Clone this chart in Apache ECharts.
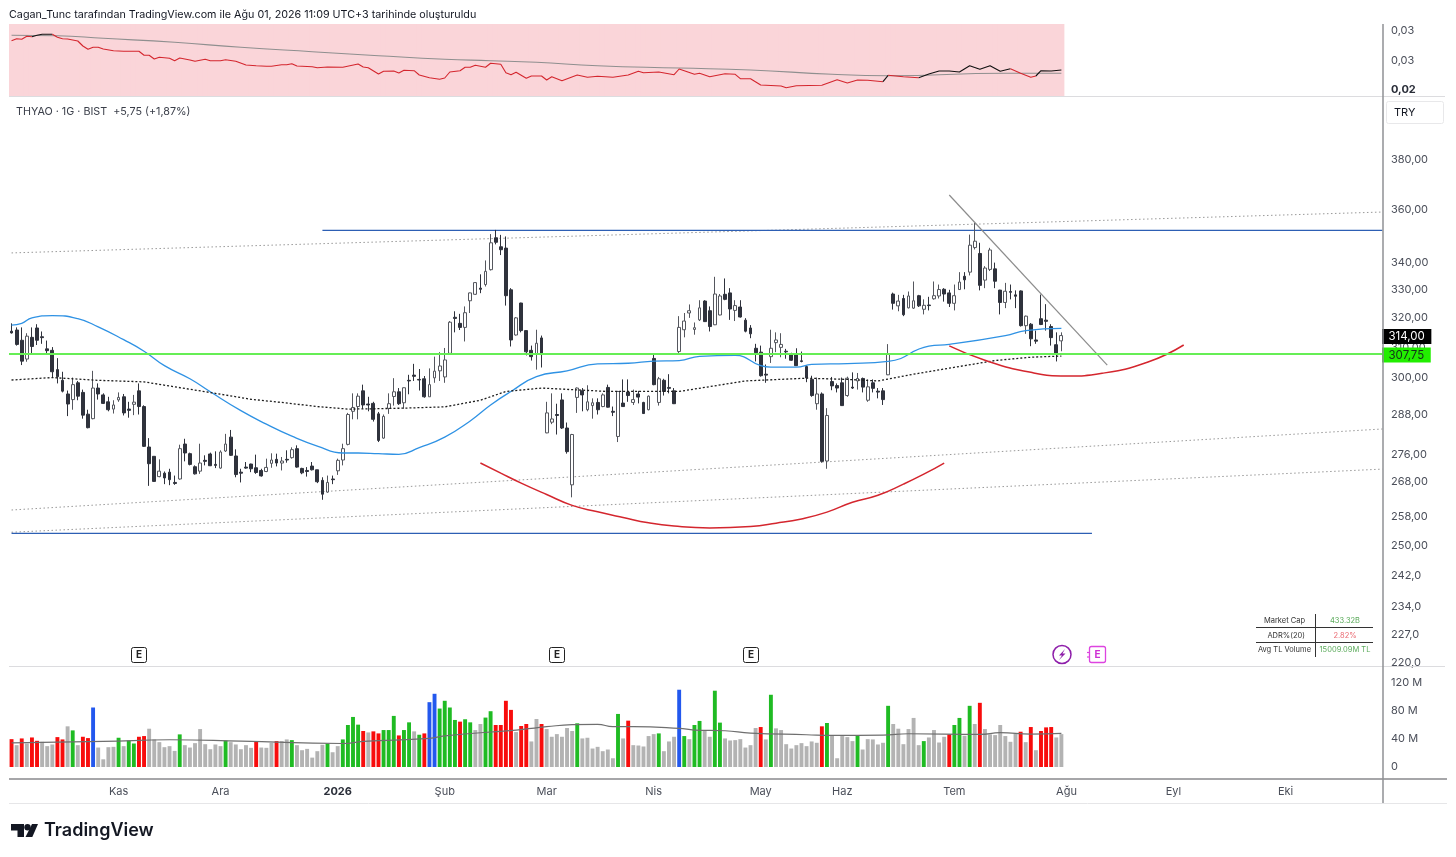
<!DOCTYPE html>
<html><head><meta charset="utf-8">
<style>html,body{margin:0;padding:0;background:#fff}#c{width:1456px;height:857px}</style>
<script src="https://cdn.jsdelivr.net/npm/echarts@6/dist/echarts.min.js"></script>
</head><body><div id="c"></div>
<script>
// ---------- data: every candle is [open, close, low, high] ----------
const candles = [
[315.5,314.9,314.7,318.2],[315.9,311.0,310.6,316.8],[312.4,305.4,304.1,316.8],[306.1,313.8,305.2,314.8],[313.4,310.3,307.5,316.8],
[316.6,312.4,310.8,317.9],[313.6,313.3,311.2,315.4],[309.5,308.9,308.0,312.3],[309.0,301.9,300.0,310.1],[302.6,300.3,298.1,306.4],
[299.1,295.6,295.2,301.9],[294.7,291.5,287.7,295.8],[292.9,297.7,289.7,300.0],[298.3,294.0,292.7,298.9],[295.2,288.0,286.9,296.1],
[288.3,284.1,283.9,289.7],[286.9,296.6,286.7,302.2],[296.6,294.7,292.9,298.1],[294.4,291.7,291.5,294.9],[292.2,289.7,289.2,293.8],
[289.9,291.2,288.5,292.7],[292.8,293.6,292.2,295.2],[293.8,288.7,287.9,294.7],[289.9,289.5,287.2,292.2],[291.4,292.1,288.0,294.4],
[295.7,290.7,288.2,298.1],[290.7,278.4,278.2,291.1],[278.2,273.2,266.7,280.9],[275.4,268.0,267.9,275.4],[269.4,271.0,269.2,274.5],
[270.4,269.0,267.2,270.9],[270.7,268.5,266.9,271.7],[267.7,267.4,267.0,269.7],[268.7,277.7,268.5,278.9],[279.1,276.4,273.9,280.7],
[276.2,273.0,272.7,276.5],[272.3,270.2,270.0,272.7],[271.0,273.4,270.2,279.2],[274.2,273.9,272.7,275.7],[276.1,272.6,272.5,276.5],
[273.0,272.7,271.9,276.9],[271.9,276.7,271.7,277.2],[277.0,279.1,276.7,282.2],[281.2,275.7,275.5,283.4],[275.5,270.0,269.2,277.5],
[270.7,270.4,267.7,271.7],[272.2,271.9,271.7,273.7],[273.1,271.7,270.7,273.2],[272.0,270.6,270.2,275.9],[271.2,269.6,269.4,271.7],
[270.9,272.1,270.7,274.7],[273.3,274.3,272.0,276.3],[274.5,273.4,272.4,276.2],[273.4,274.0,271.2,275.2],[274.5,274.3,273.5,277.2],
[275.0,277.4,274.7,278.1],[277.7,272.2,272.0,278.7],[271.8,270.5,270.1,272.0],[271.2,270.9,269.4,272.2],[272.5,271.4,271.2,273.7],
[271.4,267.9,267.5,271.4],[268.3,264.3,262.7,269.2],[264.9,267.7,264.7,269.7],[268.7,268.5,267.2,269.7],[271.1,274.2,269.9,274.7],
[274.3,277.7,272.7,279.2],[279.0,288.2,278.7,288.7],[289.2,290.4,286.7,294.9],[290.7,294.0,286.7,294.9],[295.7,291.2,290.0,297.7],
[291.5,291.2,289.2,293.8],[291.7,286.7,286.0,292.2],[288.4,280.2,279.7,289.0],[280.9,287.6,280.7,288.2],[290.1,291.6,288.4,294.9],
[293.9,295.4,291.0,299.8],[295.4,291.6,291.2,296.6],[291.9,296.7,290.0,296.8],[299.1,298.9,294.6,300.9],[300.8,300.4,298.9,304.5],
[299.4,299.2,295.8,302.8],[299.6,293.8,293.5,300.5],[293.8,297.7,293.8,303.0],[299.9,302.1,298.3,306.9],[302.2,303.8,298.9,308.4],
[300.2,305.8,298.3,309.8],[308.0,318.6,307.8,319.0],[320.3,319.9,315.1,322.4],[318.2,316.8,315.9,321.5],[316.8,321.9,312.0,324.1],
[326.1,328.9,321.8,329.0],[328.4,332.6,328.2,332.8],[330.6,330.2,328.8,335.6],[331.9,336.7,331.2,340.7],[337.3,347.3,337.0,350.6],
[349.2,347.5,346.7,352.2],[345.8,344.7,342.7,350.3],[345.3,327.9,324.4,349.7],[330.0,312.5,310.3,330.6],[314.2,320.1,314.0,320.4],
[325.3,315.7,315.1,325.4],[315.7,308.5,307.3,315.7],[309.0,306.9,305.6,310.6],[307.8,311.4,302.6,316.0],[313.2,307.6,303.3,314.0],
[282.5,288.7,282.4,292.2],[285.8,286.8,285.2,294.9],[288.2,287.9,282.0,291.6],[292.8,284.0,283.7,294.9],[284.0,276.8,276.2,285.7],
[267.0,282.0,263.4,282.2],[293.6,296.6,288.7,296.8],[295.7,294.4,289.2,296.6],[289.7,292.2,289.2,297.5],[291.0,291.9,286.9,293.3],
[292.0,289.7,288.2,293.3],[290.7,294.4,290.5,294.9],[296.8,290.5,290.4,297.7],[289.2,288.9,287.7,290.7],[281.4,295.5,279.7,295.7],
[291.8,290.7,290.7,299.4],[295.3,294.2,292.2,299.4],[292.0,292.9,291.2,296.1],[294.7,293.7,291.7,295.7],[292.0,288.5,288.4,292.2],
[289.7,294.0,289.5,294.2],[306.3,297.7,297.5,307.6],[292.0,299.6,291.0,300.2],[299.1,295.5,294.2,299.6],[296.8,296.5,294.9,301.1],
[295.7,291.6,291.5,296.6],[308.6,316.8,307.6,320.7],[316.0,319.0,313.4,321.8],[321.8,322.6,320.1,324.8],[316.1,316.7,314.3,318.5],
[319.4,323.6,319.0,326.3],[326.0,318.8,318.7,326.3],[322.6,317.1,315.4,324.1],[317.7,328.5,317.6,334.7],[321.1,327.8,321.0,328.5],
[328.4,326.6,326.3,334.1],[328.9,323.2,319.4,330.6],[322.7,324.4,319.0,326.3],[323.9,320.4,320.2,326.3],[319.3,315.5,315.1,320.0],
[316.6,314.6,313.1,317.6],[309.7,308.2,305.3,311.2],[308.4,300.6,300.3,310.6],[301.1,300.8,298.3,304.3],[306.9,309.7,304.8,316.0],
[311.6,312.5,308.4,315.1],[310.0,311.0,306.7,314.8],[308.7,308.5,306.2,309.5],[307.8,305.7,305.5,308.2],[307.8,303.9,303.8,309.7],
[305.5,305.3,305.0,308.6],[303.6,299.9,298.5,304.1],[299.4,294.2,293.8,300.6],[291.6,294.7,289.7,300.0],[294.7,273.9,273.5,295.2],
[274.0,287.9,271.7,290.2],[298.7,297.3,295.9,300.2],[297.4,296.6,295.2,298.1],[298.3,291.0,290.9,300.0],[294.2,299.8,293.8,300.3],
[296.9,296.6,296.3,301.7],[298.9,299.7,296.1,301.5],[299.7,296.9,295.2,300.0],[292.7,297.0,292.2,299.4],[298.3,296.5,295.2,299.4],
[295.6,295.3,293.3,296.6],[295.7,292.9,291.2,296.6],[300.9,307.8,300.8,311.1],[328.5,325.2,323.0,329.0],[324.3,326.0,322.4,328.2],
[326.9,321.2,320.7,328.2],[323.6,327.8,323.4,329.4],[323.5,326.1,323.2,333.0],[327.9,324.3,323.9,328.2],[323.1,324.5,321.3,326.6],
[324.6,324.4,322.7,327.5],[326.8,327.9,326.5,333.0],[327.8,330.1,326.9,331.9],[330.2,328.5,325.8,330.6],[328.9,325.2,323.9,330.0],
[325.2,327.9,322.7,331.9],[330.1,332.8,330.0,336.4],[334.9,333.6,330.2,336.4],[336.4,346.4,335.2,350.4],[345.5,347.9,344.8,354.9],
[343.3,331.6,329.8,347.3],[333.5,337.9,330.6,338.6],[337.4,344.6,336.8,345.4],[337.6,333.1,330.6,339.9],[329.9,325.5,321.3,330.0],
[325.5,329.5,323.5,332.5],[329.4,329.1,326.6,331.9],[328.2,327.7,323.5,329.8],[329.6,317.4,317.1,329.8],[317.4,320.7,314.6,320.9],
[317.9,312.9,310.4,318.3],[312.5,312.1,311.2,315.7],[319.8,317.8,317.6,328.3],[319.3,318.9,315.7,324.9],[317.1,313.3,310.6,317.9],
[310.9,308.1,305.3,315.1],[312.2,314.0,308.7,315.1]
];
// volume in millions and the colour class of each volume bar
const volumes = [39.8,31.2,40.8,33.6,42.2,37.4,36,29.8,32.2,42.7,39.4,58.1,52.3,31.2,43.2,41.3,85,27.8,11,28.3,28.8,41.8,29.8,37.9,33.6,43.2,44.2,54.7,39.4,35.5,28.3,29.8,23,46.6,31.2,27.8,34.1,54.2,32.6,25.4,32.2,29.8,37.9,35.5,32.2,25.4,31.2,27.4,37,27.8,27.4,34.6,37,37,39.4,38.4,31.2,24,25.9,13.4,22.6,31.7,33.6,21.1,29.8,39.4,60,71.5,60.5,51.4,49.4,50.9,48,52.8,52.8,73,45.1,52.8,63.8,50.9,46.1,48,92.6,104.6,83.5,94.6,85,67.2,64.8,68.2,63.8,52.8,61.4,70.6,79.7,60,60,94.6,81.6,49.9,58.6,61.4,36.5,68.6,61.4,54.2,43.2,47,43.2,55.7,51.4,62.4,40.8,41.8,26.4,28.8,22.6,25,12.5,75.8,40.8,66.2,31.2,30.7,29.3,44.2,47,48,22.6,36.5,43.2,110.4,44.2,39.8,60,65.8,51.8,43.2,109,63.4,40.8,37.9,38.4,39.8,27.8,31.2,55.7,57.1,39.4,103.2,55.2,52.8,32.6,26.4,31.2,34.1,29.8,36.5,34.6,58.1,62.9,45.6,12.5,44.2,42.7,37,45.6,25,39.8,39.4,32.2,34.6,87.4,61.4,54.7,32.6,54.2,70.1,31.2,37,42.2,52.8,35,43.2,46.6,60,70.1,44.6,87.4,61.4,91.7,54.2,46.6,45.6,60,44.2,36,47.5,50.4,35.5,57.1,24,51.4,56.6,57.1,42.2,47];
const volumeClass = ('rnrnrrnnnr'+'rngnrrbnnn'+'ngnggrrnnn'+'nnngnnnnnn'+'nngnnnnnrn'+'nnrnngnnnn'+'nngnnggggr'+'nrrgggrggn'+'grbbggggrg'+'gnnggrrrrn'+'rrnnrnnnnn'+'ngnnnnnnng'+'nrnnnnngnn'+'nbgnggnngg'+'nnnnnnnrng'+'nnnnnnnnnr'+'gnnnnngnnn'+'nngnnnnnng'+'nnnnrggngn'+'rnnnnnnnrn'+'rnrrrnn').split('');
// moving averages, [bar index, value]
const volumeMA = [[0,34.6],[18,36.5],[31,38.9],[45,37],[65,33.6],[69,36.5],[82,40.8],[85,44.6],[99,52.8],[102,55.2],[105,57.6],[110,60.5],[115,61],[118,57.6],[122,57.6],[131,55.2],[134,52.8],[140,51.8],[145,48.5],[156,46.1],[161,45.1],[171,45.6],[176,47.5],[190,46.6],[194,49],[200,47],[206,48]];
const blueMA = [[0,317.6],[2,318.2],[4,320.1],[8,320.9],[13,319.8],[17,317.0],[22,312.6],[26,308.7],[30,303.9],[35,299.6],[39,295.4],[45,289.4],[50,285.2],[55,281.5],[60,278.5],[65,276.4],[68,276.4],[72,276.2],[76,276.0],[80,278.0],[85,281.2],[90,286.2],[94,291.2],[98,295.5],[103,300.3],[109,302.2],[115,304.5],[121,304.7],[126,305.4],[131,305.6],[135,307.0],[142,307.3],[147,303.9],[149,303.4],[154,303.4],[157,304.3],[164,304.6],[172,305.3],[180,310.4],[184,311.0],[195,314.0],[199,315.7],[206,316.5]];
const dottedMA = [[0,299.2],[8,300.0],[12,299.6],[17,299.1],[26,298.6],[32,297.0],[40,294.9],[47,293.0],[53,292.0],[60,290.7],[66,289.9],[71,290.0],[77,290.2],[85,290.6],[92,292.7],[97,295.5],[104,296.6],[117,295.5],[131,295.5],[144,298.9],[156,299.8],[164,299.4],[170,298.9],[177,301.1],[183,302.8],[193,305.6],[200,306.7],[206,307.1]];
// top pane: relative strength and its average
const rsLine = [[0,.02893],[1,.02913],[2,.02907],[3,.02937],[4,.02933],[5,.02947],[6,.02957],[8,.02957],[9,.02927],[10,.02913],[11,.0291],[13,.0289],[14,.0284],[15,.02807],[16,.02827],[17,.02827],[18,.0281],[20,.02793],[22,.02787],[25,.02787],[26,.02747],[27,.02747],[28,.0271],[29,.02727],[31,.02717],[32,.02693],[33,.0272],[35,.027],[36,.02687],[38,.02707],[39,.02693],[41,.02693],[42,.02703],[44,.02687],[46,.0265],[48,.02643],[50,.02637],[51,.02637],[53,.02653],[54,.02653],[55,.02663],[56,.0264],[59,.02633],[60,.02623],[62,.0263],[65,.02627],[68,.0266],[69,.0263],[70,.02623],[72,.0256],[73,.02587],[75,.0259],[76,.0257],[77,.02597],[79,.02593],[80,.0255],[82,.02523],[84,.02507],[85,.0252],[86,.0258],[88,.02593],[89,.02627],[90,.02627],[91,.02647],[93,.02627],[94,.02667],[96,.02657],[97,.02573],[98,.02553],[99,.02577],[101,.02517],[102,.0254],[104,.0254],[105,.025],[106,.02533],[108,.02493],[111,.0255],[113,.02527],[115,.02537],[118,.02527],[121,.0255],[123,.02587],[124,.02573],[127,.0258],[130,.02553],[131,.0261],[134,.02557],[135,.02567],[137,.02533],[140,.02563],[142,.02557],[143,.02513],[145,.02513],[147,.0245],[151,.0244],[152,.02423],[154,.02443],[159,.02447],[162,.02503],[164,.0247],[166,.025],[168,.02497],[171,.02483],[172,.02547],[175,.02533],[178,.02523],[180,.0256],[182,.0259],[184,.0259],[186,.0258],[188,.02643],[190,.02607],[192,.02643],[194,.02587],[196,.02613],[198,.02567],[200,.02527],[201,.0254],[202,.02593],[204,.0259],[206,.026]];
const rsAboveAverage = [[5,8],[172,172],[180,196],[202,206]];
const rsAverage = [[0,.02947],[9,.02943],[18,.02917],[32,.02877],[45,.02827],[59,.02783],[72,.02743],[85,.02707],[94,.02693],[103,.02677],[115,.02643],[131,.0262],[145,.026],[161,.02557],[172,.02543],[195,.02567],[206,.02567]];
// hand-drawn objects, [bar index, price]
const resistance = [[61,352],[269,352]];
const support = [[0,253.3],[212,253.3]];
const channelTop = [[0,343.5],[269,359.1]];
const channelMid = [[0,259.8],[269,283.7]];
const channelLow = [[0,253.6],[269,271.6]];
const downTrend = [[184,365.8],[215,304.1]];
const bigArc = [[92,273.4],[96,270.4],[100,267.5],[105,264.2],[110,261.1],[115,259.3],[120,257.7],[125,256.2],[130,255.3],[137,254.8],[145,255.2],[150,256.1],[155,257.3],[160,259.2],[165,262],[170,264],[175,267.2],[179,270.1],[183,273.4]];
const smallArc = [[184,310.5],[191,305.7],[200,301.7],[207,300.5],[214,301.4],[223,305.1],[230,310.8]];
// axes
const priceTicks = [380,360,340,330,320,310,300,288,276,268,258,250,242,234,227,220];
const volumeTicks = [0,40,80,120];
const rsTicks = [.03,.027,.0241];
const monthTicks = {21:'Kas',41:'Ara',64:'2026',85:'Şub',105:'Mar',126:'Nis',147:'May',163:'Haz',185:'Tem',207:'Ağu',228:'Eyl',250:'Eki'};
const lastClose = 314, keyLevel = 307.75;

// ---------- layout ----------
const FONT = 'Inter, "Liberation Sans", sans-serif';
const BAR_SLOTS = 270, L = 9, R = 1456 - 1385;
const categories = Array.from({length: BAR_SLOTS}, (_, i) => String(i));
const comma = (v, d) => v.toFixed(d).replace('.', ',');
const volumeColours = {r:'#f80c0c', g:'#1fbb23', b:'#2358ee', n:'#b3b3b3'};
const TXT = '#2a2e39';

const grids = [
  {left:L, right:R, top:24, height:72.5},
  {left:L, right:R, top:97, height:569},
  {left:L, right:R, top:667, height:112}
];
const xAxes = grids.map((g, i) => ({
  type:'category', gridIndex:i, data:categories, boundaryGap:true,
  axisLine:{show:false}, axisTick:{show:false}, splitLine:{show:false},
  axisLabel: i < 2 ? {show:false} : {
    show:true, interval:0, margin:7, color:'#4a4e59', fontFamily:FONT, fontSize:11,
    formatter:(v, idx) => { const t = monthTicks[idx]; if (!t) return ''; return t === '2026' ? '{b|2026}' : t; },
    rich:{b:{fontWeight:'bold', fontSize:11, color:TXT, fontFamily:FONT}}
  }
}));
const yBase = {position:'right', axisLine:{show:false}, axisTick:{show:false}, splitLine:{show:false}};
const yAxes = [
  Object.assign({}, yBase, {type:'value', gridIndex:0, min:.02335, max:.0306,
    axisLabel:{show:true, customValues:rsTicks, margin:6, padding:[2,0,0,0], color:'#4a4e59', fontFamily:FONT, fontSize:11,
      formatter:v => v < .025 ? '{b|'+comma(v,2)+'}' : comma(v,2),
      rich:{b:{fontWeight:'bold', fontSize:11, color:TXT, fontFamily:FONT}}}}),
  Object.assign({}, yBase, {type:'log', logBase:10, gridIndex:1, min:219.3, max:406.9,
    axisLabel:{show:true, customValues:priceTicks, margin:6, padding:[3,0,0,0], color:'#4a4e59', fontFamily:FONT, fontSize:11, showMinLabel:true, showMaxLabel:true,
      formatter:v => { const r = Math.round(v); return comma(r, r < 250 ? 1 : 2); }}}),
  Object.assign({}, yBase, {type:'value', gridIndex:2, min:-17.14, max:142.86,
    axisLabel:{show:true, customValues:volumeTicks, margin:6, padding:[3,0,0,0], color:'#4a4e59', fontFamily:FONT, fontSize:11,
      formatter:v => v === 0 ? '0' : v + ' M'}})
];

function line(data, axis, colour, width, extra) {
  return Object.assign({type:'line', xAxisIndex:axis, yAxisIndex:axis, data, symbol:'none', silent:true, z:3,
    lineStyle:{color:colour, width}}, extra || {});
}
function dash(data, colour, width, pattern, z) {
  return line(data, 1, colour, width, {z: z || 2, lineStyle:{color:colour, width, type:pattern}});
}

const isAbove = idx => rsAboveAverage.some(r => idx >= r[0] && idx <= r[1]);
function rsSeries() {
  const out = []; let cur = [rsLine[0]], above = isAbove(rsLine[0][0]);
  for (let i = 1; i < rsLine.length; i++) {
    const a = isAbove(rsLine[i][0]);
    if (a !== above) { out.push(line(cur, 0, above ? '#111' : '#d4262e', 1.1)); cur = [rsLine[i-1]]; above = a; }
    cur.push(rsLine[i]);
  }
  out.push(line(cur, 0, above ? '#111' : '#d4262e', 1.1));
  return out;
}

const priceLabel = (bg, fg) => ({show:true, position:'end', distance:-3, offset:[0,1], formatter:p => comma(p.value, 2),
  backgroundColor:bg, color:fg, fontFamily:FONT, fontSize:11.5, padding:[2,6.5,1,6.5], lineHeight:12});

const series = [
  {type:'bar', xAxisIndex:0, yAxisIndex:0, data:candles.map(() => .0306), barWidth:6, silent:true, z:1,
    itemStyle:{color:'#fad5d9'}},
  line(rsAverage, 0, '#8f8f8f', 1.1, {smooth:true, z:2}),
  ...rsSeries(),
  dash(channelTop, '#999', 1, [1.5,2.5]),
  dash(channelMid, '#999', 1, [1.5,2.5]),
  dash(channelLow, '#999', 1, [1.5,2.5]),
  line(resistance, 1, '#2d5fb4', 1.2),
  line(support, 1, '#2d5fb4', 1.2),
  line(blueMA, 1, '#2f92e4', 1.3, {smooth:true, z:6}),
  dash(dottedMA, '#1c1c1c', 1.3, [2,2], 6),
  {type:'candlestick', xAxisIndex:1, yAxisIndex:1, data:candles, barWidth:3.3, silent:true, z:4,
    itemStyle:{color:'#ffffff', color0:'#2f323c', borderColor:'#55575e', borderColor0:'#2f323c', borderWidth:1},
    markLine:{silent:true, symbol:'none', animation:false, z:9, data:[
      {yAxis:lastClose, lineStyle:{color:'transparent', width:0}, label:priceLabel('#000','#fff')},
      {yAxis:keyLevel, lineStyle:{color:'#66ee55', width:2, type:'solid'}, label:priceLabel('#22ee00','#14301a')}
    ]}},
  line(downTrend, 1, '#8c8c8c', 1.2, {z:7}),
  line(bigArc, 1, '#d4262e', 1.5, {smooth:true, z:7}),
  line(smallArc, 1, '#d4262e', 1.5, {smooth:true, z:7}),
  {type:'bar', xAxisIndex:2, yAxisIndex:2, data:volumes.map((v,i) => ({value:v, itemStyle:{color:volumeColours[volumeClass[i]]}})),
    barWidth:3.9, silent:true, z:2},
  line(volumeMA, 2, '#6f6f6f', 1.2, {smooth:true, z:4})
];

// ---------- page furniture ----------
const T = (x, y, text, o) => ({type:'text', x, y, silent:true, z:20, style:Object.assign({text, fill:TXT, font:'11px '+FONT, textVerticalAlign:'middle'}, o||{})});
const Rule = (x1, y1, x2, y2, c, w) => ({type:'line', silent:true, z:15, shape:{x1,y1,x2,y2}, style:{stroke:c, lineWidth:w}});
const earnings = [139,557,751].flatMap(x => [
  {type:'rect', silent:true, z:20, shape:{x:x-7.5,y:647.5,width:15,height:15,r:2}, style:{fill:'#fff', stroke:'#222', lineWidth:1}},
  T(x, 655, 'E', {textAlign:'center', font:'bold 10px '+FONT, fill:'#222'})
]);
const graphic = [
  T(9, 15, 'Cagan_Tunc tarafından TradingView.com ile Ağu 01, 2026 11:09 UTC+3 tarihinde oluşturuldu', {font:'10.75px '+FONT, fill:'#131722'}),
  T(16, 112, 'THYAO · 1G · BIST  +5,75 (+1,87%)', {font:'10.75px '+FONT, fill:'#3a3e49'}),
  Rule(9, 96.5, 1445, 96.5, '#dcdcdf', 1),
  Rule(9, 666.5, 1445, 666.5, '#dcdcdf', 1),
  Rule(9, 779, 1447, 779, '#88898d', 1.5),
  Rule(9, 803.5, 1447, 803.5, '#e6e6e8', 1),
  Rule(1383, 24, 1383, 803, '#8f9094', 1.5),
  {type:'rect', silent:true, z:15, shape:{x:1386.5,y:101.5,width:57,height:22,r:2}, style:{fill:'#fff', stroke:'#e8e8ea', lineWidth:1}},
  T(1394, 112.5, 'TRY', {font:'11px '+FONT, fill:'#131722'}),
  ...earnings,
  {type:'circle', silent:true, z:20, shape:{cx:1062,cy:654.5,r:9}, style:{fill:'#fff', stroke:'#8e1eaa', lineWidth:1.5}},
  {type:'polygon', silent:true, z:21, shape:{points:[[1065,649],[1059,655.5],[1062,655.5],[1059,660],[1065.5,653.5],[1062.5,653.5]]}, style:{fill:'#8e1eaa'}},
  {type:'rect', silent:true, z:20, shape:{x:1089.5,y:646.5,width:16,height:16,r:2}, style:{fill:'#fff', stroke:'#dd44e0', lineWidth:1.3}},
  T(1097.5, 655, 'E', {textAlign:'center', font:'bold 10px '+FONT, fill:'#cf30d4'}),
  Rule(1087, 652.5, 1092, 652.5, '#dd44e0', 1.2), Rule(1087, 657, 1092, 657, '#dd44e0', 1.2),
  // statistics table
  Rule(1256, 627.5, 1373, 627.5, '#333', 1), Rule(1256, 642.5, 1373, 642.5, '#333', 1), Rule(1315.5, 614, 1315.5, 657, '#333', 1),
  T(1305, 620.5, 'Market Cap', {textAlign:'right', font:'7.5px '+FONT, fill:'#333'}),
  T(1345, 620.5, '433.32B', {textAlign:'center', font:'7.5px '+FONT, fill:'#5cab5c'}),
  T(1305, 635.5, 'ADR%(20)', {textAlign:'right', font:'7.5px '+FONT, fill:'#333'}),
  T(1345, 635.5, '2.82%', {textAlign:'center', font:'7.5px '+FONT, fill:'#ea6a72'}),
  T(1311, 650, 'Avg TL Volume', {textAlign:'right', font:'7.5px '+FONT, fill:'#333'}),
  T(1345, 650, '15009.09M TL', {textAlign:'center', font:'7.5px '+FONT, fill:'#5cab5c'}),
  // logo
  {type:'polygon', silent:true, z:20, shape:{points:[[11,824],[24,824],[24,837],[17.5,837],[17.5,830.5],[11,830.5]]}, style:{fill:'#131722'}},
  {type:'circle', silent:true, z:20, shape:{cx:27.5,cy:827.3,r:3.2}, style:{fill:'#131722'}},
  {type:'polygon', silent:true, z:20, shape:{points:[[32,824],[38,824],[32.3,837],[25.5,837]]}, style:{fill:'#131722'}},
  T(44, 830.5, 'TradingView', {font:'600 18px '+FONT, fill:'#131722'})
];

const chart = echarts.init(document.getElementById('c'), null, {renderer:'canvas'});
chart.setOption({animation:false, backgroundColor:'#fff', grid:grids, xAxis:xAxes, yAxis:yAxes, series, graphic});
</script></body></html>
